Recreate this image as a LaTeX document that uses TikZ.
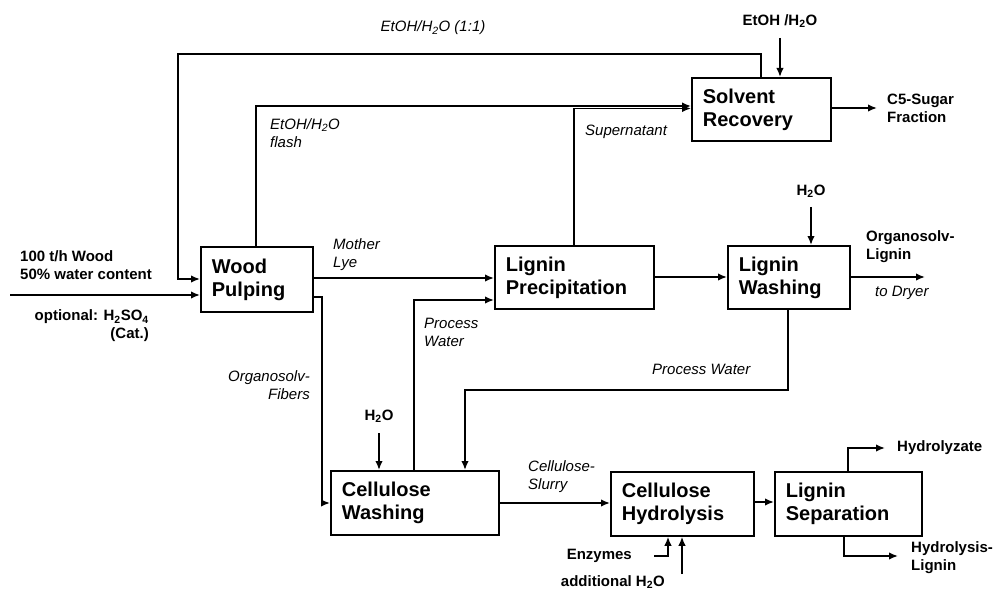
\documentclass[tikz,border=0pt]{standalone}
\usepackage{fontspec}
\setmainfont{Liberation Sans}
\usetikzlibrary{arrows.meta}
\begin{document}
\begin{tikzpicture}[x=1pt,y=-1pt,
  box/.style={draw, line width=1.8pt, anchor=north west, inner xsep=11pt, inner ysep=0pt,
    font=\bfseries\fontsize{20}{23}\selectfont, align=left},
  arr/.style={line width=1.6pt, -{Latex[length=9pt,width=7.5pt]}},
  lbl/.style={inner sep=0pt, font=\bfseries\fontsize{15}{18}\selectfont},
  ital/.style={inner sep=0pt, font=\itshape\fontsize{15}{18}\selectfont}]
\useasboundingbox (0,0) rectangle (994,591);

% boxes
\node[box, text width=90pt, minimum height=65pt] (wp) at (200,246) {Wood\\Pulping};
\node[box, text width=137pt, minimum height=63pt] (lp) at (494,245) {Lignin\\Precipitation};
\node[box, text width=100pt, minimum height=63pt] (lw) at (727,245) {Lignin\\Washing};
\node[box, text width=117pt, minimum height=63pt] (sr) at (691,77) {Solvent\\Recovery};
\node[box, text width=146pt, minimum height=64pt] (cw) at (330,470) {Cellulose\\Washing};
\node[box, text width=121pt, minimum height=64pt] (ch) at (610,471) {Cellulose\\Hydrolysis};
\node[box, text width=125pt, minimum height=64pt] (ls) at (774,471) {Lignin\\Separation};

% free ends
\coordinate (in) at (10,295);
\coordinate (etohs) at (780,38);
\coordinate (c5) at (877,108);
\coordinate (h2olw) at (811,207);
\coordinate (dry) at (925,277);
\coordinate (h2ocw) at (379,433);
\coordinate (enz) at (654,556);
\coordinate (addw) at (682,574);
\coordinate (hyd) at (885,448);
\coordinate (hl) at (898,556);

% connectors
\draw[arr] (in) -- (wp.west |- in);
\draw[arr] (761,0 |- sr.north) -- (761,54) -| (178,279) -- (wp.west |- 0,279);
\draw[arr] (256,0 |- wp.north) |- (sr.west |- 0,106);
\draw[arr] (574,0 |- lp.north) |- (sr.west |- 0,108.5);
\draw[arr] (etohs) -- (etohs |- sr.north);
\draw[arr] (sr.east |- c5) -- (c5);
\draw[arr] (wp.east |- 0,278) -- (lp.west |- 0,278);
\draw[arr] (wp.east |- 0,297) -| (322,503) -- (cw.west |- 0,503);
\draw[arr] (414,0 |- cw.north) |- (lp.west |- 0,300);
\draw[arr] (lp.east |- 0,277) -- (lw.west |- 0,277);
\draw[arr] (h2olw) -- (h2olw |- lw.north);
\draw[arr] (lw.east |- dry) -- (dry);
\draw[arr] (788,0 |- lw.south) |- (465,390) -- (465,0 |- cw.north);
\draw[arr] (h2ocw) -- (h2ocw |- cw.north);
\draw[arr] (cw.east |- 0,503) -- (ch.west |- 0,503);
\draw[arr] (enz) -| (668,0 |- ch.south);
\draw[arr] (addw) -- (addw |- ch.south);
\draw[arr] (ch.east |- 0,502) -- (ls.west |- 0,502);
\draw[arr] (848,0 |- ls.north) |- (hyd);
\draw[arr] (844,0 |- ls.south) |- (hl);

% italic labels
\node[ital] (l11) at (433,28) {EtOH/H\textsubscript{2}O (1:1)};
\node[ital, anchor=west, align=left] (lfl) at (270,133) {EtOH/H\textsubscript{2}O\\flash};
\node[ital, anchor=west] (lsup) at (585,132) {Supernatant};
\node[ital, anchor=west, align=left] (lml) at (333,255) {Mother\\Lye};
\node[ital, anchor=west, align=left] (lpw1) at (424,332) {Process\\Water};
\node[ital, anchor=east, align=right] (lof) at (310,385) {Organosolv-\\Fibers};
\node[ital, anchor=west, align=left] (lcs) at (528,477) {Cellulose-\\Slurry};
\node[ital, anchor=west] (lpw2) at (652,369) {Process Water};
\node[ital, anchor=west] (ldry) at (875,293) {to Dryer};

% bold labels
\node[lbl, anchor=west, align=left] (lwood) at (20,265) {100 t/h Wood\\50\% water content};
\node[lbl, anchor=east, align=right] (lopt) at (149,326) {optional: H\textsubscript{2}SO\textsubscript{4}\\(Cat.)};
\node[lbl] (letoh) at (780,21) {EtOH /H\textsubscript{2}O};
\node[lbl, anchor=west, align=left] (lc5) at (887,108) {C5-Sugar\\Fraction};
\node[lbl] (lh2o1) at (811,191) {H\textsubscript{2}O};
\node[lbl, anchor=west, align=left] (lol) at (866,247) {Organosolv-\\Lignin};
\node[lbl] (lh2o2) at (379,416) {H\textsubscript{2}O};
\node[lbl, anchor=east] (lenz) at (632,556) {Enzymes};
\node[lbl, anchor=east] (ladd) at (665,582) {additional H\textsubscript{2}O};
\node[lbl, anchor=west] (lhyd) at (897,448) {Hydrolyzate};
\node[lbl, anchor=west, align=left] (lhl) at (911,558) {Hydrolysis-\\Lignin};
\end{tikzpicture}
\end{document}
